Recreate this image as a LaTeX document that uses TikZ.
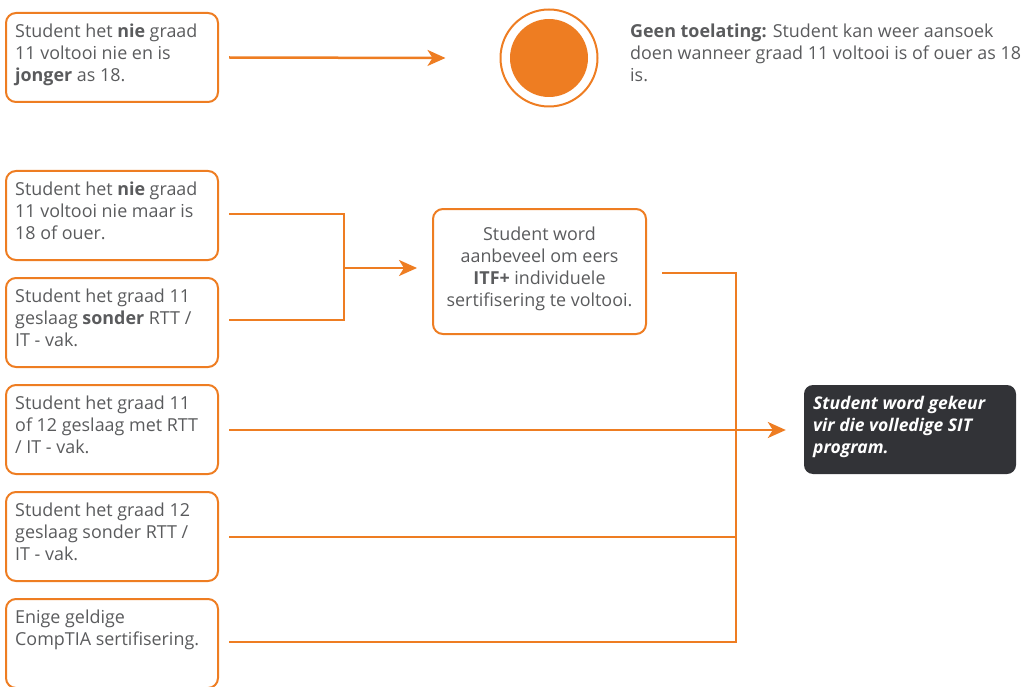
\documentclass[tikz,border=0pt]{standalone}
\usepackage{fontspec}
\setmainfont{Open Sans}
\usetikzlibrary{arrows.meta,calc}
\definecolor{orng}{HTML}{EE7D22}
\definecolor{txtgray}{HTML}{5A5B5D}
\definecolor{darkbox}{HTML}{323337}
\tikzset{
  box/.style={draw=orng, line width=2pt, rounded corners=10pt, minimum width=212pt, minimum height=89pt, inner sep=0pt},
  txt/.style={anchor=north west, inner sep=0pt, align=left, text=txtgray, font=\fontsize{17.9}{22}\selectfont},
  conn/.style={draw=orng, line width=2.5pt},
  arr/.style={conn, -{Stealth[length=18pt,width=16pt,inset=5pt]}},
}
\begin{document}
\begin{tikzpicture}[x=1pt,y=-1pt]
\useasboundingbox (0,0) rectangle (1022,687);
% left boxes
\node[box] (b1) at (112,57.5) {};
\node[txt] (t1) at (15,24) {Student het \textbf{nie} graad\\11 voltooi nie en is\\\textbf{jonger} as 18.};
\node[box] (b2) at (112,215.5) {};
\node[txt] (t2) at (15,182) {Student het \textbf{nie} graad\\11 voltooi nie maar is\\18 of ouer.};
\node[box] (b3) at (112,322.5) {};
\node[txt] (t3) at (15,289) {Student het graad 11\\geslaag \textbf{sonder} RTT /\\IT - vak.};
\node[box] (b4) at (112,429.5) {};
\node[txt] (t4) at (15,396) {Student het graad 11\\of 12 geslaag met RTT\\/ IT - vak.};
\node[box] (b5) at (112,536.5) {};
\node[txt] (t5) at (15,503) {Student het graad 12\\geslaag sonder RTT /\\IT - vak.};
\node[box] (b6) at (112,643.5) {};
\node[txt] (t6) at (15,610) {Enige geldige\\CompTIA sertifisering.};
% circle
\node[circle, draw=orng, line width=2pt, minimum size=97pt, inner sep=0pt] (ring) at (549,58) {};
\node[circle, fill=orng, minimum size=78pt, inner sep=0pt] (dot) at (549,58) {};
\node[txt] (geen) at (630,24) {\textbf{Geen toelating:} Student kan weer aansoek\\doen wanneer graad 11 voltooi is of ouer as 18\\is.};
% middle box
\node[box, minimum width=213pt, minimum height=125pt] (mid) at (539.5,271.5) {};
\node[inner sep=0pt, align=center, text=txtgray, font=\fontsize{17.9}{22}\selectfont, anchor=north] (midt) at (539.5,227) {Student word\\aanbeveel om eers\\\textbf{ITF+} individuele\\sertifisering te voltooi.};
% dark box
\node[fill=darkbox, rounded corners=9pt, minimum width=212pt, minimum height=89pt, inner sep=0pt] (res) at (910,429.5) {};
\node[txt, text=white, font=\fontsize{17.5}{22}\selectfont\bfseries\itshape] (rest) at (813,396) {Student word gekeur\\vir die volledige SIT\\program.};
% connector coordinates
\coordinate (s1) at ($(b1.east)+(10,0)$);
\coordinate (e1) at ($(ring.west)+(-54,0)$);
\coordinate (s2) at ($(b2.east)+(10,-1.5)$);
\coordinate (s3) at ($(b3.east)+(10,-2.5)$);
\coordinate (j1) at (344,268);
\coordinate (e2) at ($(mid.west)+(-15,-3.5)$);
\coordinate (s4) at ($(b4.east)+(10,0.5)$);
\coordinate (e4) at ($(res.west)+(-18,0.5)$);
\coordinate (s5) at ($(b5.east)+(10,0.5)$);
\coordinate (s6) at ($(b6.east)+(10,-1.5)$);
\coordinate (sm) at ($(mid.east)+(15,1.5)$);
\coordinate (jx) at (736,0);
% connectors
\draw[arr] (s1) -- (e1);
\draw[conn] (s2) -| (j1) |- (s3);
\draw[arr] (j1) -- (e2);
\draw[arr] (s4) -- (e4);
\draw[conn] (sm) -| (jx |- s6) -- (s6);
\draw[conn] (s5) -- (jx |- s5);
\end{tikzpicture}
\end{document}
